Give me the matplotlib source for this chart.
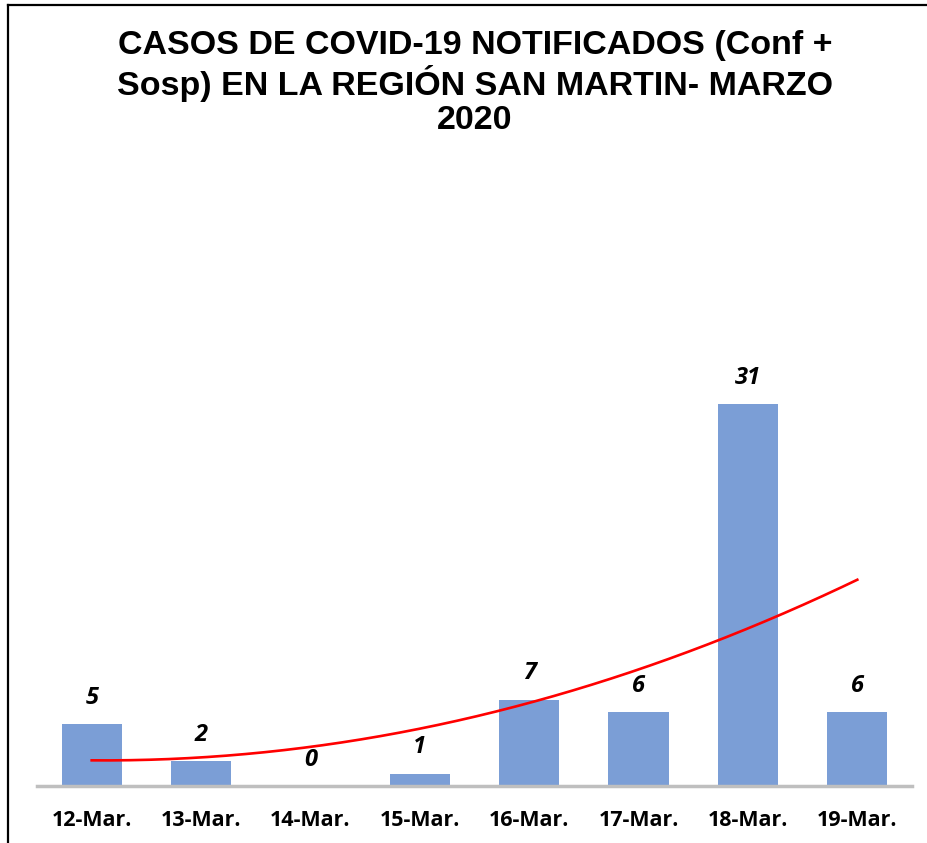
import numpy as np
import matplotlib.pyplot as plt
from matplotlib.lines import Line2D

# ---------- data ----------
dates = ["12-Mar.", "13-Mar.", "14-Mar.", "15-Mar.",
         "16-Mar.", "17-Mar.", "18-Mar.", "19-Mar."]
cases = [5, 2, 0, 1, 7, 6, 31, 6]

title = ("CASOS DE COVID-19 NOTIFICADOS (Conf +\n"
         "Sosp) EN LA REGIÓN SAN MARTIN- MARZO\n2020")

bar_col = "#7B9ED6"

# ---------- figure ----------
fig = plt.figure(figsize=(9.28, 8.43), dpi=100)
ax = fig.add_axes([37 / 928, 1 - 786 / 843, 875 / 928, 431 / 843])

x = np.arange(len(dates))
ax.bar(x, cases, width=0.55, color=bar_col, zorder=2)

# polynomial (order 2) trend line, as in the spreadsheet
coef = np.polyfit(x, cases, 2)
xs = np.linspace(x[0], x[-1], 200)
ax.plot(xs, np.polyval(coef, xs), color="red", linewidth=1.9, zorder=3)

for xi, v in zip(x, cases):
    ax.annotate(str(v), (xi, v), xytext=(0, 19), textcoords="offset points",
                ha="center", va="center", fontsize=17, fontweight="bold",
                fontstyle="italic", family="Open Sans")

ax.set_xlim(-0.5, len(dates) - 0.5)
ax.set_ylim(0, 35)
ax.set_xticks(x)
ax.set_xticklabels(dates, fontsize=15.5, fontweight="bold", family="Open Sans")
ax.tick_params(axis="x", length=0, pad=17)
ax.set_yticks([])
for s in ["top", "right", "left"]:
    ax.spines[s].set_visible(False)
ax.spines["bottom"].set_color("#BFBFBF")
ax.spines["bottom"].set_linewidth(2.5)

fig.text(475 / 928, 1 - 30 / 843, title, ha="center", va="top",
         fontsize=24.5, fontweight="bold", family="Liberation Sans",
         linespacing=1.13)

# outer frame lines (top and left)
fig.add_artist(Line2D([8 / 928, 1], [1 - 5 / 843, 1 - 5 / 843],
                      transform=fig.transFigure, color="black", linewidth=1.6))
fig.add_artist(Line2D([8 / 928, 8 / 928], [0, 1 - 5 / 843],
                      transform=fig.transFigure, color="black", linewidth=1.6))

fig.savefig("out.png", dpi=100)
